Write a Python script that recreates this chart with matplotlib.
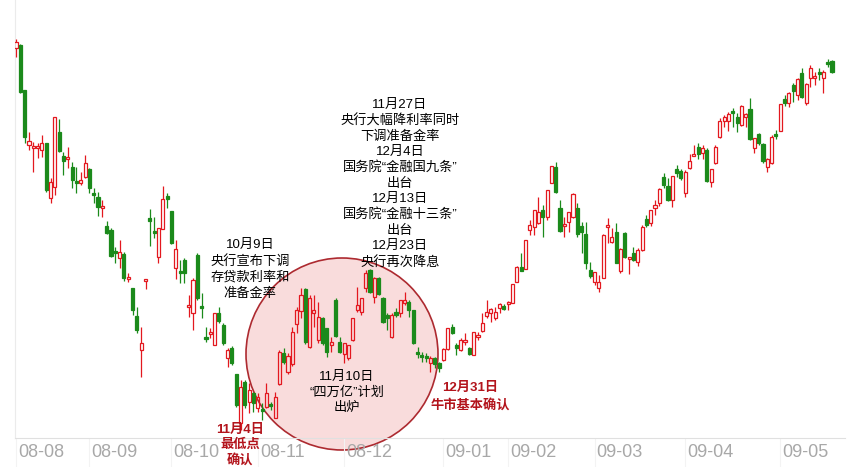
import matplotlib
matplotlib.use("Agg")
import matplotlib.pyplot as plt
from matplotlib.patches import Ellipse
from matplotlib.transforms import blended_transform_factory

plt.rcParams['font.family'] = ['Liberation Sans', 'Noto Sans CJK SC']

# daily candles, Aug 2008 - May 2009 (index points)
opens = [
    452, 455, 410, 355, 352, 352, 350, 357, 302, 313,
    368, 344, 341, 333, 319, 317, 323, 331, 307, 303,
    292, 274, 270, 249, 242, 246, 221, 212, 184, 150,
    219, 282, 269, 243, 271, 304, 289, 232, 229, 240,
    193, 187, 245, 194, 163, 166, 155, 187, 175, 142,
    152, 126, 77, 118, 98, 107, 92, 91, 93, 96,
    82, 116, 147, 128, 136, 176, 189, 211, 153, 187,
    160, 182, 172, 155, 200, 158, 146, 142, 160, 190,
    188, 212, 230, 203, 222, 202, 185, 163, 188, 187,
    197, 198, 190, 148, 145, 144, 137, 142, 137, 140,
    151, 173, 155, 150, 158, 152, 145, 163, 169, 184,
    187, 182, 192, 194, 196, 197, 218, 233, 231, 270,
    273, 277, 290, 283, 317, 333, 292, 274, 278, 283,
    292, 274, 266, 230, 218, 212, 222, 273, 258, 268,
    229, 267, 241, 247, 238, 250, 281, 277, 292, 297,
    323, 314, 300, 331, 329, 307, 332, 344, 353, 347,
    350, 318, 337, 363, 379, 379, 389, 383, 375, 383,
    391, 352, 366, 356, 333, 337, 366, 369, 401, 397,
    415, 405, 427, 397, 422, 422, 428, 422, 438, 439,
]
highs = [
    461, 456, 410, 368, 358, 357, 365, 357, 322, 383,
    381, 348, 353, 338, 333, 328, 345, 332, 312, 308,
    300, 279, 272, 253, 260, 248, 227, 212, 193, 173,
    221, 291, 283, 272, 314, 307, 289, 260, 240, 242,
    205, 222, 247, 207, 173, 172, 187, 193, 177, 152,
    154, 126, 120, 120, 117, 108, 107, 97, 117, 98,
    108, 150, 152, 147, 173, 193, 212, 212, 205, 205,
    198, 183, 172, 163, 202, 163, 157, 155, 182, 213,
    202, 230, 231, 223, 223, 203, 187, 187, 192, 200,
    208, 200, 190, 153, 148, 147, 144, 143, 138, 152,
    172, 176, 157, 162, 167, 153, 168, 168, 187, 200,
    192, 193, 197, 196, 199, 216, 234, 247, 260, 280,
    290, 303, 295, 310, 334, 338, 300, 283, 288, 307,
    297, 278, 278, 238, 228, 225, 266, 282, 272, 277,
    252, 268, 243, 253, 252, 275, 285, 290, 300, 312,
    327, 322, 324, 335, 331, 330, 346, 355, 357, 355,
    352, 331, 355, 382, 385, 388, 392, 387, 395, 387,
    402, 362, 367, 357, 342, 365, 370, 396, 405, 408,
    417, 422, 432, 417, 435, 428, 432, 430, 441, 440,
]
lows = [
    443, 407, 357, 350, 328, 342, 343, 308, 297, 305,
    348, 325, 332, 312, 307, 315, 322, 307, 297, 284,
    283, 266, 243, 237, 232, 219, 218, 185, 167, 123,
    211, 254, 262, 237, 271, 292, 256, 221, 217, 217,
    183, 170, 200, 182, 158, 162, 155, 177, 155, 133,
    135, 93, 70, 92, 87, 88, 88, 80, 92, 90,
    82, 115, 136, 126, 134, 167, 182, 156, 152, 173,
    157, 155, 143, 148, 163, 147, 137, 140, 159, 188,
    185, 208, 207, 197, 205, 177, 170, 162, 183, 183,
    195, 183, 156, 142, 138, 138, 128, 132, 128, 139,
    150, 166, 145, 149, 155, 145, 145, 160, 168, 182,
    178, 180, 187, 190, 190, 197, 218, 229, 231, 265,
    265, 276, 263, 280, 317, 307, 268, 263, 268, 282,
    263, 247, 231, 222, 215, 208, 222, 257, 257, 237,
    227, 242, 226, 239, 234, 249, 273, 274, 285, 294,
    312, 299, 293, 323, 320, 303, 331, 344, 341, 341,
    318, 313, 336, 362, 373, 369, 373, 368, 374, 373,
    360, 347, 355, 337, 328, 336, 361, 369, 394, 393,
    398, 400, 402, 395, 413, 415, 420, 407, 433, 427,
]
closes = [
    458, 408, 363, 359, 354, 354, 357, 310, 318, 383,
    349, 339, 343, 320, 317, 320, 337, 312, 305, 293,
    294, 267, 244, 247, 248, 222, 223, 190, 170, 157,
    221, 279, 267, 272, 301, 301, 257, 251, 227, 227,
    195, 220, 202, 192, 161, 168, 187, 179, 157, 150,
    137, 95, 113, 95, 110, 97, 103, 89, 107, 94,
    103, 148, 138, 144, 168, 190, 205, 158, 202, 190,
    183, 157, 148, 158, 164, 148, 157, 155, 182, 195,
    202, 227, 208, 222, 206, 178, 182, 185, 185, 200,
    200, 190, 157, 146, 143, 142, 142, 136, 132, 151,
    172, 167, 152, 160, 160, 146, 168, 165, 177, 188,
    191, 188, 196, 191, 198, 216, 233, 229, 260, 275,
    290, 288, 283, 310, 334, 308, 269, 276, 288, 306,
    266, 268, 237, 224, 228, 218, 265, 275, 263, 237,
    251, 243, 243, 240, 250, 273, 275, 290, 295, 311,
    315, 300, 324, 327, 322, 328, 339, 346, 346, 352,
    319, 331, 353, 379, 383, 386, 387, 377, 394, 386,
    361, 362, 357, 339, 341, 363, 364, 396, 397, 407,
    409, 421, 403, 416, 432, 424, 426, 428, 436, 428,
]

# first trading day index of each month
month_labels = ["08-08", "08-09", "08-10", "08-11", "08-12",
                "09-01", "09-02", "09-03", "09-04", "09-05"]
month_start = [0, 17, 36, 56, 76, 99, 114, 134, 155, 177]

policy_note = ["11月27日", "央行大幅降利率同时", "下调准备金率",
               "12月4日", "国务院“金融国九条”", "出台",
               "12月13日", "国务院“金融十三条”", "出台",
               "12月23日", "央行再次降息"]
oct_note = ["10月9日", "央行宣布下调", "存贷款利率和", "准备金率"]
plan_note = ["11月10日", "“四万亿”计划", "出炉"]
low_note = ["11月4日", "最低点", "确认"]
bull_note = ["12月31日", "牛市基本确认"]

RED = "#e3181f"
GREEN = "#1b8a1b"
DARK_RED = "#b3141c"

W, H = 861, 467
fig = plt.figure(figsize=(W / 100, H / 100), dpi=100)
ax = fig.add_axes([15 / W, (H - 438) / H, 830 / W, 438 / H])

for i in range(len(opens)):
    o, h, l, c = opens[i], highs[i], lows[i], closes[i]
    up = c >= o
    col = RED if up else GREEN
    lo_b, hi_b = min(o, c), max(o, c)
    ax.vlines(i, l, lo_b, color=col, lw=0.9, zorder=3)
    ax.vlines(i, hi_b, h, color=col, lw=0.9, zorder=3)
    ax.bar(i, max(hi_b - lo_b, 0.8), bottom=lo_b, width=0.72,
           facecolor="none" if up else col, edgecolor=col,
           linewidth=0.9, zorder=3)

ax.set_xlim(-0.23, 192)
ax.set_ylim(62, 500)

# highlight circle
circ = Ellipse((342 / W, 1 - 354 / H), 192 / W, 192 / H, transform=fig.transFigure,
               facecolor="#f9dcdc", edgecolor="#ad2a30", linewidth=1.2, zorder=1)
ax.add_patch(circ)
circ.set_clip_on(False)

for s in ["top", "right"]:
    ax.spines[s].set_visible(False)
ax.spines["left"].set_color("#ebebeb")
ax.spines["bottom"].set_color("#e0e0e0")
ax.set_yticks([])
ax.set_xticks(month_start)
ax.set_xticklabels([])
ax.tick_params(axis="x", length=21, width=0.8, color="#f3f3f3")

trans = blended_transform_factory(ax.transData, ax.transAxes)
for pos, lab in zip(month_start, month_labels):
    ax.text(pos + 0.5, -0.033, lab, transform=trans, ha="left", va="center",
            fontsize=13, color="#a8a8a8", clip_on=False, zorder=5)


def text_block(lines, cx, top, step, **kw):
    for k, line in enumerate(lines):
        fig.text(cx / W, 1 - (top + k * step) / H, line,
                 ha="center", va="center", zorder=6, **kw)


text_block(policy_note, 400, 105, 15.7, fontsize=9.5, color="black", weight="medium")
text_block(oct_note, 250, 245, 16.2, fontsize=9.5, color="black", weight="medium")
text_block(plan_note, 347, 377, 15.7, fontsize=9.5, color="black", weight="medium")
text_block(low_note, 240, 430, 15, fontsize=9.5, color=DARK_RED, weight="bold")
text_block(bull_note, 470, 388, 17, fontsize=9.5, color=DARK_RED, weight="bold")

fig.savefig("out.png", dpi=100)
